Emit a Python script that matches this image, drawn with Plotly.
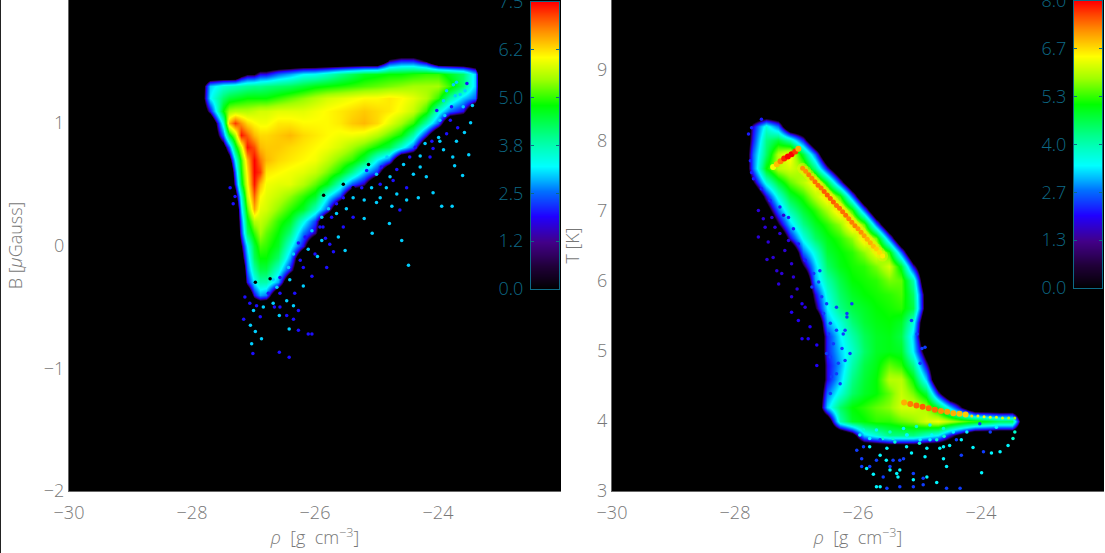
import plotly.graph_objects as go

# ---- left panel: log B vs log rho, colour = log counts
left_rho = [-27.9,-27.7,-27.5,-27.4,-27.3,-27.2,-27.1,-27.0,-26.9,-26.8,-26.6,-26.4,-26.2,-26.0,
            -25.8,-25.6,-25.4,-25.2,-25.0,-24.8,-24.6,-24.4,-24.2,-24.0,-23.8,-23.6,-23.4,-23.3]
left_B = [1.6,1.5,1.4,1.3,1.2,1.1,1.0,0.9,0.8,0.7,0.6,0.5,0.4,0.3,0.2,0.1,0.0,-0.1,-0.2,-0.3,-0.4,-0.5]
left_counts = [
 [0,0,0,0,0,0,0,0,0,0,0,0,0,0,0,0,0,0,0,0,0,0,0,0,0,0,0,0],
 [0,0,0,0,0,0,0,0,0,0,0,0,0,0,0,0,0,0,0,1.8,2.2,2.2,1.5,0,0,0,0,0],
 [0,0,0,0,0,1,1.5,1.5,2,2,2.5,2.8,3.2,3.3,3.6,4.0,4.3,4.6,4.7,4.8,4.8,4.9,5,5,4.6,4.2,3,0],
 [0,3,3.5,3.6,3.7,3.8,3.9,4,4,4.1,4.2,4.3,4.5,4.7,4.8,4.9,5,5.1,5.2,5.3,5.4,5.5,5.5,5.5,5.0,4.2,3,0],
 [0,3.2,4.2,4.5,4.6,4.7,4.8,4.8,4.8,4.8,5,5.2,5.4,5.6,5.8,5.9,6,6.1,6.1,6.2,6.1,5.9,5.6,5,3.8,3,2.5,0],
 [0,2,4.8,5.5,5.6,5.6,5.6,5.7,5.8,5.8,5.9,5.9,5.9,6,6.1,6.2,6.3,6.4,6.3,6.2,6,5.7,5,3.5,2.5,2,0,0],
 [0,0,3.5,6.5,7.2,6.7,6.3,6.1,6,6,6.2,6.2,6.1,6.1,6.1,6.2,6.4,6.5,6.3,5.9,5.5,5,3.8,2.5,0,0,0,0],
 [0,0,2.5,4.6,5.6,7.4,7,6.5,6.3,6.3,6.4,6.5,6.3,6.2,6.1,6,6,5.9,5.6,5.2,4.8,3.8,2,0,0,0,0,0],
 [0,0,1,2.5,4.5,5.8,7.4,7.1,6.5,6.4,6.4,6.3,6.2,6.1,6,5.8,5.5,5.2,4.8,4.4,3.5,2.5,0,0,0,0,0,0],
 [0,0,0,1,3.2,5,6.5,7.5,6.9,6.5,6.3,6.2,6.1,6,5.7,5.3,5,4.4,3.2,2.5,0,0,0,0,0,0,0,0],
 [0,0,0,0,2.5,4.8,6.2,7.5,7.2,6.2,6.1,6,5.9,5.7,5.3,4.8,4,3,2.2,0,0,0,0,0,0,0,0,0],
 [0,0,0,0,2,4.5,6,7.4,6.5,6,5.9,5.9,5.6,5.2,4.7,3.6,2.4,1.8,0,0,0,0,0,0,0,0,0,0],
 [0,0,0,0,1,3.5,5.7,7,6.1,5.9,5.7,5.4,5,4.6,3.3,2.3,0,0,0,0,0,0,0,0,0,0,0,0],
 [0,0,0,0,0,3,5.1,6.6,5.9,5.8,5.4,5,4.6,3.7,2.4,0,0,0,0,0,0,0,0,0,0,0,0,0],
 [0,0,0,0,0,2.5,4.6,5.6,5.7,5.5,5,4.6,3.4,2.3,0,0,0,0,0,0,0,0,0,0,0,0,0,0],
 [0,0,0,0,0,2.2,4.2,5,5.5,5.2,4.8,4.1,2.6,1.8,0,0,0,0,0,0,0,0,0,0,0,0,0,0],
 [0,0,0,0,0,1.5,3.2,4.5,5.1,5,4.6,3.4,2,0,0,0,0,0,0,0,0,0,0,0,0,0,0,0],
 [0,0,0,0,0,1,2.8,4.3,4.8,4.8,4.2,2.8,0,0,0,0,0,0,0,0,0,0,0,0,0,0,0,0],
 [0,0,0,0,0,0,2.5,3.8,4.4,4.4,3.5,2,0,0,0,0,0,0,0,0,0,0,0,0,0,0,0,0],
 [0,0,0,0,0,0,2,3.2,3.8,3.8,2.8,0,0,0,0,0,0,0,0,0,0,0,0,0,0,0,0,0],
 [0,0,0,0,0,0,0,2,2.8,2.6,0,0,0,0,0,0,0,0,0,0,0,0,0,0,0,0,0,0],
 [0,0,0,0,0,0,0,0,0,0,0,0,0,0,0,0,0,0,0,0,0,0,0,0,0,0,0,0],
]
left_speck_rho = [-24.48,-24.59,-25.07,-26.42,-26.58,-27.01,-26.87,-27.03,-26.97,-26.11,-26.05,-26.27,-26.42,-27.05,-27.16,-26.89,-26.58,-26.46,-26.35,-26.27,-26.35,-26.57,-26.66,
 -25.70,-25.51,-25.62,-25.83,-25.96,-25.81,-26.05,-26.19,-23.94,-23.77,-24.08,-24.19,-23.6,-23.73,-23.76,-23.5,-23.91,-24.08,-23.7,-23.57,-23.47,-23.44,-23.68,-23.86,
 -24.32,-24.51,-24.62,-24.79,-24.75,-25.2,-25.0,-25.38,-25.54,-25.89,-25.76,-26.0,-26.19,-26.41,-26.57,-26.68,-26.84,-27.06,-27.14,-27.0,-26.95,-26.46,-26.33,
 -24.94,-24.67,-24.51,-24.84,-24.73,-24.4,-24.29,-24.13,-23.97,-23.8,-23.59,-23.64,-23.75,-27.33,-27.3,-27.38,-25.65,-25.87,-25.2,
 -23.97,-24.02,-23.89,-23.78,-23.91,-23.7,-23.56,-23.53,-23.86,-23.72,-23.99,-24.1,-24.21,-24.37,-24.29,-24.46,-24.56,-24.67,-24.83,-24.92,-25.0,-25.16,-24.78,-24.94,-25.08,-25.24,
 -25.38,-25.54,-25.49,-25.65,-25.78,-25.73,-25.89,-25.92,-26.05,-26.16,-26.11,-26.27,-26.35,-26.24,-26.43,-26.57,-26.62,-26.76,-26.68,
 -25.13,-25.54,-25.38,-25.86,-26.97,-26.73]
left_speck_B = [-0.16,0.04,0.10,-0.91,-0.87,-0.88,-0.76,-0.80,-0.70,-0.72,-0.72,-0.69,-0.68,-0.65,-0.60,-0.58,-0.57,-0.57,-0.60,-0.53,-0.49,-0.50,-0.50,
 -0.05,-0.04,0.07,0.06,-0.09,-0.18,-0.25,-0.33,0.32,0.32,0.43,0.56,0.57,0.65,0.72,0.74,0.78,0.79,0.85,0.92,1.0,1.14,0.96,0.91,
 0.39,0.37,0.29,0.18,0.32,0.22,0.35,0.23,0.15,0.04,0.01,-0.07,-0.18,-0.28,-0.39,-0.47,-0.5,-0.47,-0.42,-0.53,-0.49,-0.45,-0.39,
 0.39,0.42,0.47,0.47,0.53,0.58,0.64,0.72,0.85,1.02,1.13,1.23,1.31,0.34,0.40,0.47,0.26,0.15,0.37,
 1.02,1.10,1.06,1.13,1.18,1.33,1.26,1.32,1.26,1.22,0.88,0.85,0.83,0.80,0.73,0.72,0.66,0.62,0.72,0.64,0.58,0.61,0.56,0.50,0.47,0.47,
 0.39,0.39,0.30,0.34,0.30,0.23,0.23,0.15,0.12,0.07,-0.03,0.02,-0.07,-0.12,-0.18,-0.26,-0.34,-0.39,-0.28,
 0.66,0.50,0.47,0.41,-0.30,-0.27]
left_speck_val = [3,3,3,2,2,2,3,3,3,2,2,2,3,3,2,2,3,2,2,2,3,2,2,
 2,3,3,2,3,2,2,3,3,3,3,3,3,3,3,3,3,2,3,3,3,3,2,2,
 3,3,2,3,3,3,3,2,2,3,2,2,2,3,2,3,3,2,2,3,2,3,2,
 3,3,2,3,2,3,3,2,3,2,3,3,3,2,2,2,3,2,3,
 3,2,3,2,3,3,3,2,3,3,3,2,3,2,3,2,3,2,3,2,3,2,3,2,3,2,
 3,2,3,2,3,2,3,2,3,2,3,2,3,2,3,2,3,2,3,
 0,0,0,0,0,0]

# ---- right panel: log T vs log rho
right_rho = [-27.9,-27.7,-27.5,-27.3,-27.1,-26.9,-26.7,-26.5,-26.3,-26.1,-25.9,-25.7,
             -25.5,-25.3,-25.1,-24.9,-24.7,-24.5,-24.3,-24.1,-23.9,-23.7,-23.5,-23.3]
right_T = [8.4,8.2,8.0,7.8,7.6,7.4,7.2,7.0,6.8,6.6,6.4,6.2,6.0,5.8,5.6,5.4,5.2,5.0,4.8,4.6,4.4,4.2,4.0,3.8,3.6]
right_counts = [
 [0,0,0,0,0,0,0,0,0,0,0,0,0,0,0,0,0,0,0,0,0,0,0,0],
 [0,2.1,3.7,2.7,0,0,0,0,0,0,0,0,0,0,0,0,0,0,0,0,0,0,0,0],
 [0,2.3,4.3,4.8,4.05,2.3,0,0,0,0,0,0,0,0,0,0,0,0,0,0,0,0,0,0],
 [0,2.7,4.5,6.0,6.6,4.8,2.7,0,0,0,0,0,0,0,0,0,0,0,0,0,0,0,0,0],
 [0,2.7,5.1,6.0,6.2,5.9,4.3,2.1,0,0,0,0,0,0,0,0,0,0,0,0,0,0,0,0],
 [0,1.6,3.7,4.8,5.55,6.0,6.6,4.8,2.3,0,0,0,0,0,0,0,0,0,0,0,0,0,0,0],
 [0,0,2.1,3.7,4.8,5.3,6.0,6.7,5.3,2.7,0,0,0,0,0,0,0,0,0,0,0,0,0,0],
 [0,0,1,2.7,4.05,4.8,5.3,5.9,6.8,5.3,2.7,0,0,0,0,0,0,0,0,0,0,0,0,0],
 [0,0,0,1.6,3.2,4.3,4.9,5.3,5.8,6.8,5.55,2.7,0,0,0,0,0,0,0,0,0,0,0,0],
 [0,0,0,0,2.1,3.6,4.5,5,5.3,5.75,6.7,5.65,2.7,0,0,0,0,0,0,0,0,0,0,0],
 [0,0,0,0,0,2.7,3.7,4.8,5.1,5.3,5.75,6.4,5.3,2.7,0,0,0,0,0,0,0,0,0,0],
 [0,0,0,0,0,1.6,3.2,4.5,5,5.2,5.3,5.65,6.2,4.9,2.1,0,0,0,0,0,0,0,0,0],
 [0,0,0,0,0,0,3,4.05,4.7,5.1,5.2,5.3,5.65,5.55,4.05,0,0,0,0,0,0,0,0,0],
 [0,0,0,0,0,0,2.1,3.7,4.5,4.9,5.1,5.2,5.3,5.45,4.5,1,0,0,0,0,0,0,0,0],
 [0,0,0,0,0,0,1.6,3.4,4.3,4.7,4.9,5.1,5.2,5.3,4.7,1,0,0,0,0,0,0,0,0],
 [0,0,0,0,0,0,0,3,3.7,4.4,4.8,5,5.1,4.9,3.7,0,0,0,0,0,0,0,0,0],
 [0,0,0,0,0,0,0,2.3,3.4,4.05,4.6,4.9,5,4.7,3.2,0,0,0,0,0,0,0,0,0],
 [0,0,0,0,0,0,0,2.3,3.2,3.8,4.5,4.9,5,4.9,3.4,1,0,0,0,0,0,0,0,0],
 [0,0,0,0,0,0,0,2.1,3,4.05,4.7,5,5.55,5.3,4.3,2.1,0,0,0,0,0,0,0,0],
 [0,0,0,0,0,0,0,2.1,3.2,4.3,4.8,5.1,6,6,5.1,3.2,0,0,0,0,0,0,0,0],
 [0,0,0,0,0,0,0,2.7,3.7,4.5,4.9,5.1,5.55,6.1,5.65,4.8,2.1,0,0,0,0,0,0,0],
 [0,0,0,0,0,0,0,3.2,4.5,5.1,5.3,5.55,5.75,6.2,6.2,5.9,4.8,3.2,1.5,0,0,0,0,0],
 [0,0,0,0,0,0,0,0.5,4.05,4.9,5.1,5.3,5.3,5.55,5.75,6.2,6.4,6,5.6,5.3,5,4.6,4.6,0],
 [0,0,0,0,0,0,0,0,0,1,3.2,3.7,4.3,4.3,4.3,3.8,3.4,2.1,1,0,0,0,0,0],
 [0,0,0,0,0,0,0,0,0,0,0,0,0,0,0,0,0,0,0,0,0,0,0,0],
]
ridge_rho = [-26.9,-26.85,-26.8,-26.75,-26.7,-26.65,-26.6,-26.55,-26.5,-26.45,-26.4,-26.35,-26.3,-26.25,
             -26.2,-26.15,-26.1,-26.05,-26.0,-25.95,-25.9,-25.85,-25.8,-25.75,-25.7,-25.65,-25.6]
ridge_T = [7.60,7.56,7.51,7.46,7.41,7.36,7.32,7.27,7.22,7.17,7.12,7.07,7.03,6.98,6.93,6.88,6.83,6.78,6.74,6.69,6.64,6.59,6.54,6.49,6.45,6.4,6.35]
ridge_val = [7.2,7.2,7.3,7.3,7.4,7.4,7.4,7.5,7.5,7.5,7.5,7.4,7.4,7.4,7.4,7.3,7.3,7.3,7.2,7.2,7.1,7.0,7.0,6.9,6.8,6.7,6.6]
streak_rho = [-27.38,-27.32,-27.26,-27.2,-27.14,-27.08,-27.02,-26.97,-25.25,-25.15,-25.05,-24.95,-24.85,-24.75,-24.65,-24.55,-24.45,-24.35,-24.25]
streak_T = [7.62,7.66,7.70,7.74,7.77,7.80,7.84,7.88,4.26,4.24,4.22,4.2,4.18,4.16,4.14,4.13,4.11,4.1,4.09]
streak_val = [6.4,6.9,7.3,7.8,8,8,7.7,7,7,7.3,7.4,7.5,7.4,7.4,7.2,7.1,7,6.9,6.8]
tail_rho = [-24.15,-24.05,-23.95,-23.85,-23.75,-23.65,-23.55,-23.45]
tail_T = [4.07,4.07,4.06,4.05,4.05,4.04,4.04,4.04]
tail_val = [6.7,6.6,6.5,6.4,6.3,6.2,6.1,5.9]
right_speck_rho = [-23.45,-23.48,-23.56,-23.69,-23.83,-23.96,-24.13,-24.32,-24.32,-24.56,-23.99,-23.85,-23.75,-24.02,-24.23,-24.4,-24.88,-24.72,-24.94,-25.1,-25.32,-25.48,-25.75,-25.86,-25.94,-25.94,-26.02,-25.97,-25.81,-25.64,-25.43,-25.26,-25.13,-24.88,-24.67,-24.51,-24.72,-24.99,-25.21,-25.53,-25.37,-25.59,-25.7,-25.53,-25.32,-25.1,-24.56,-24.34,
 -25.6,-25.4,-25.2,-25.0,-24.8,-24.6,
 -25.91,-25.70,-25.48,-25.26,-25.05,-24.83,-24.61,-24.45,-25.81,-25.64,-25.43,-25.21,-24.83,-24.61,-25.91,-25.54,-25.81,-25.48,-25.32,-24.91,-24.61,-25.70,-25.35,-24.94,-25.64,-25.1,
 -27.62,-27.54,-27.51,-27.62,-27.46,-27.48,-27.38,-27.27,-27.19,-27.08,-27.29,-27.24,-27.08,-26.97,-27.08,-26.91,-26.81,-26.67,-26.67,-26.86,-26.99,-27.32,-27.13,-27.4,-27.21,-27.35,-27.05,-26.91,-26.78,
 -26.72,-26.64,-26.75,-26.59,-26.51,-26.56,-26.45,-26.35,-26.48,-26.4,-26.26,-26.45,-26.32,-26.43,-26.29,-26.45,-26.21,-26.18,-26.1,-26.62,-26.86,-26.97,-27.05,-27.13,-27.27,-27.43,-27.57,-27.7,-27.73,-27.75,-27.78,-27.73,-27.57,
 -26.35,-26.18,-26.24,-26.13,-26.51,-26.35,-26.21,-25.13,-25.04,-24.96,-24.91,-24.99]
right_speck_T = [3.84,3.75,3.65,3.56,3.54,3.56,3.62,3.73,3.51,3.35,3.26,3.84,3.91,3.96,3.84,3.73,3.2,3.12,3.09,3.25,3.3,3.35,3.24,3.32,3.46,3.35,3.58,3.8,3.63,3.51,3.44,3.46,3.54,3.61,3.61,3.65,3.73,3.73,3.63,3.61,3.25,3.2,3.06,3.04,3.06,3.16,3.04,3.04,
 3.75,3.7,3.8,3.68,3.8,3.78,
 3.87,3.87,3.84,3.89,3.92,3.94,3.89,3.84,3.75,3.73,3.75,3.80,3.73,3.63,3.63,3.44,3.35,3.30,3.44,3.49,3.46,3.44,3.20,3.18,3.06,3.06,
 7.0,6.88,6.76,6.62,6.55,6.3,6.33,6.67,6.43,6.24,5.95,6.1,5.77,5.43,5.55,5.17,5.17,5.08,4.79,5.62,5.88,6.14,6.57,6.9,6.93,6.76,6.05,5.67,5.34,
 6.10,5.98,5.91,5.77,5.67,5.53,5.39,5.29,5.24,5.10,5.03,4.91,4.82,4.63,4.53,4.39,4.86,5.53,5.67,6.14,6.29,6.52,6.74,6.90,7.05,7.14,7.31,7.45,7.54,7.71,8.09,8.18,8.30,
 5.62,5.48,5.24,4.96,4.96,4.67,5.29,5.43,5.24,5.03,5.05,4.82]
right_speck_val = [3.8,3.8,3.4,3.4,3.4,2.4,3.4,3.4,2.4,3.4,3.4,2.4,3.4,2.4,3.4,2.4,3.4,3.4,2.4,2.4,3.4,2.4,3.4,3.4,2.4,2.4,2.4,3.4,3.4,3.4,2.4,2.4,3.4,3.4,3.4,3.4,3.8,3.4,3.4,3.4,3.4,2.4,3.4,2.4,2.4,3.4,2.4,2.4,
 3.8,3.8,3.4,3.8,3.4,3.8,
 3.8,3.4,3.8,3.4,3.8,3.4,3.8,3.4,3.4,2.4,3.8,3.4,3.4,3.4,2.4,3.4,2.4,3.4,2.4,3.4,3.4,2.4,3.4,2.4,3.4,2.4,
 1.8,1.8,1.8,1.8,1.8,1.8,1.8,1.8,1.8,1.8,1.8,1.8,1.8,2,2,2,2,2,2,1.8,1.8,1.8,1.8,1.8,1.8,1.8,1.8,2,2,
 2.4,2.4,2.4,2.4,2.4,2.4,2.4,2.4,2.4,2.4,2.4,2.4,2.4,2.4,2.4,2.4,2.4,2.4,2.4,2.4,2.2,2.2,2.2,2.2,2.2,2.2,2.2,2.2,2.2,2.2,2.2,2.2,2.2,
 2.4,2.4,2.4,2.4,2.4,2.4,2.4,2.4,2.4,2.4,2.4,2.4]

# ---- ticks and colour-bar levels
rho_ticks = [-30,-28,-26,-24]
B_ticks = [-2,-1,0,1]
T_ticks = [3,4,5,6,7,8,9]
left_bar_vals = [0,1.25,2.5,3.75,5,6.25,7.5]
left_bar_text = ["0.0","1.2","2.5","3.8","5.0","6.2","7.5"]
right_bar_vals = [0,1.333,2.667,4,5.333,6.667,8]
right_bar_text = ["0.0","1.3","2.7","4.0","5.3","6.7","8.0"]
bar_fraction = [0,0.04,0.08,0.12,0.163,0.21,0.256,0.3,0.34,0.385,0.43,0.48,0.53,0.585,0.64,0.685,0.73,0.77,0.81,0.855,0.9,0.95,1]

scale = [[0,"#000000"],[0.08,"#200038"],[0.163,"#420088"],[0.256,"#2000ff"],[0.34,"#0070ff"],[0.43,"#00ffff"],
         [0.53,"#00ff90"],[0.64,"#00ff00"],[0.73,"#a0ff00"],[0.81,"#ffff00"],[0.9,"#ff9000"],[1,"#ff0000"]]
# same hues, but the low end is squeezed so that smooth cell edges stay as crisp as the binned reference
cell_scale = [[0,"#000000"],[0.2,"#000000"],[0.235,"#300070"],[0.27,"#2000ff"],[0.34,"#0070ff"],[0.43,"#00ffff"],
              [0.53,"#00ff90"],[0.64,"#00ff00"],[0.73,"#a0ff00"],[0.81,"#ffff00"],[0.9,"#ff9000"],[1,"#ff0000"]]
TEAL = "#0d6a86"
GREY = "#777777"
W, H = 1105, 553
FONT = "Open Sans"
RHO_TITLE = "<i>ρ</i>\u00a0\u00a0[g\u00a0\u00a0cm<sup>−3</sup>]"

fig = go.Figure()
fig.add_trace(go.Heatmap(x=left_rho, y=left_B[::-1], z=left_counts[::-1], zmin=0, zmax=7.5, colorscale=cell_scale,
                         zsmooth="best", showscale=False, xaxis="x", yaxis="y"))
fig.add_trace(go.Scatter(x=left_speck_rho, y=left_speck_B, mode="markers", xaxis="x", yaxis="y",
                         marker=dict(size=3.5, color=left_speck_val, cmin=0, cmax=7.5, colorscale=scale)))
fig.add_trace(go.Heatmap(x=right_rho, y=right_T[::-1], z=right_counts[::-1], zmin=0, zmax=8, colorscale=cell_scale,
                         zsmooth="best", showscale=False, xaxis="x2", yaxis="y2"))
fig.add_trace(go.Scatter(x=ridge_rho, y=ridge_T, mode="markers", xaxis="x2", yaxis="y2",
                         marker=dict(size=11, color="#f0f000", opacity=0.45)))
fig.add_trace(go.Scatter(x=ridge_rho, y=ridge_T, mode="markers", xaxis="x2", yaxis="y2",
                         marker=dict(size=5, color=ridge_val, cmin=0, cmax=8, colorscale=scale)))
fig.add_trace(go.Scatter(x=streak_rho, y=streak_T, mode="markers", xaxis="x2", yaxis="y2",
                         marker=dict(size=6, color=streak_val, cmin=0, cmax=8, colorscale=scale)))
fig.add_trace(go.Scatter(x=tail_rho, y=tail_T, mode="markers", xaxis="x2", yaxis="y2",
                         marker=dict(size=3, color=tail_val, cmin=0, cmax=8, colorscale=scale)))
fig.add_trace(go.Scatter(x=right_speck_rho, y=right_speck_T, mode="markers", xaxis="x2", yaxis="y2",
                         marker=dict(size=3.5, color=right_speck_val, cmin=0, cmax=8, colorscale=scale)))
# colour bars: one column of levels on their own small axes, so labels can sit to the left as in the reference
fig.add_trace(go.Heatmap(x=[0,1], y=[f*7.5 for f in bar_fraction], z=[[f,f] for f in bar_fraction], zmin=0, zmax=1,
                         colorscale=scale, zsmooth="best", showscale=False, xaxis="x3", yaxis="y3"))
fig.add_trace(go.Heatmap(x=[0,1], y=[f*8 for f in bar_fraction], z=[[f,f] for f in bar_fraction], zmin=0, zmax=1,
                         colorscale=scale, zsmooth="best", showscale=False, xaxis="x4", yaxis="y4"))

font = dict(family=FONT, size=18, color=GREY, weight=300)
bar_font = dict(family=FONT, size=18, color=TEAL, weight=300)
common = dict(showgrid=False, zeroline=False, ticks="", showline=True, linecolor="#666666", linewidth=1, tickfont=font)
xcommon = dict(common, ticklabelstandoff=5)
bar_x = dict(range=[0,1], showticklabels=False, ticks="", showgrid=False, zeroline=False,
             showline=True, linecolor=TEAL, linewidth=1, mirror=True)
bar_y = dict(ticks="inside", ticklen=3, tickcolor=TEAL, tickfont=bar_font, showgrid=False, zeroline=False,
             showline=True, linecolor=TEAL, linewidth=1, mirror="ticks", ticklabelstandoff=3, ticklabeloverflow="allow")
fig.update_layout(
    width=W, height=H, margin=dict(l=0, r=0, t=0, b=0, autoexpand=False), paper_bgcolor="white", plot_bgcolor="black",
    showlegend=False,
    shapes=[dict(type="line", xref="paper", yref="paper", x0=0, x1=0, y0=0, y1=1, line=dict(color="#222222", width=2))],
    xaxis=dict(domain=[69/W, 561/W], range=[-30,-22], tickvals=rho_ticks, anchor="y",
               title=dict(text=RHO_TITLE, font=font, standoff=0), **xcommon),
    yaxis=dict(domain=[62/H, 1], range=[-2,2], tickvals=B_ticks, anchor="x",
               title=dict(text="B [<i>μ</i>Gauss]", font=font, standoff=16), **common),
    xaxis2=dict(domain=[612/W, 1104/W], range=[-30,-22], tickvals=rho_ticks, anchor="y2",
                title=dict(text=RHO_TITLE, font=font, standoff=0), **xcommon),
    yaxis2=dict(domain=[62/H, 1], range=[3,10], tickvals=T_ticks, anchor="x2",
                title=dict(text="T [K]", font=font, standoff=12), **common),
    xaxis3=dict(domain=[531/W, 559/W], anchor="y3", **bar_x),
    yaxis3=dict(domain=[1-289/H, 1-2/H], range=[0,7.5], anchor="x3", tickvals=left_bar_vals, ticktext=left_bar_text, **bar_y),
    xaxis4=dict(domain=[1074/W, 1102/W], anchor="y4", **bar_x),
    yaxis4=dict(domain=[1-288/H, 1-1/H], range=[0,8], anchor="x4", tickvals=right_bar_vals, ticktext=right_bar_text, **bar_y),
)
fig.write_html("out.html", config=dict(displayModeBar=False),
               post_script="document.body.style.margin='0';document.body.style.overflow='hidden';")
